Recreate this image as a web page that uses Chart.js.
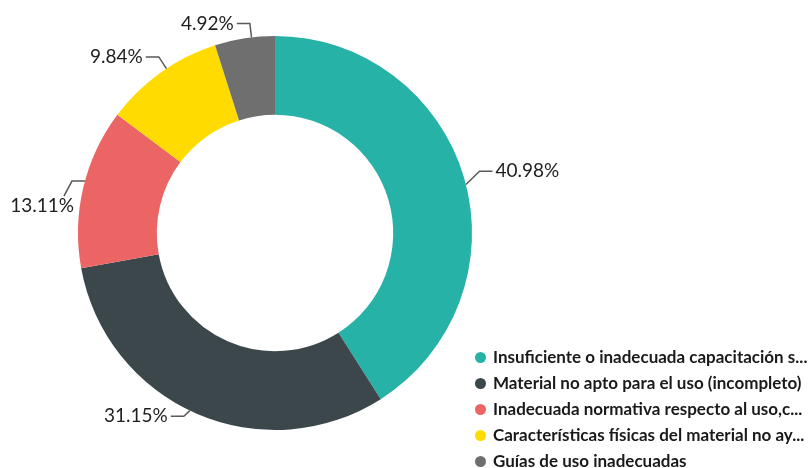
<!DOCTYPE html>
<html>
<head>
<meta charset="utf-8">
<script src="https://cdn.jsdelivr.net/npm/chart.js@4/dist/chart.umd.min.js"></script>
<style>
  html, body { margin: 0; padding: 0; background: #fff; }
  #wrap { position: relative; width: 809px; height: 468px; overflow: hidden; }
  #grafico { position: absolute; left: 0; top: 0; }
  #leyenda { position: absolute; left: 475px; top: 344px; font-family: Lato, sans-serif; font-weight: bold; font-size: 17px; color: #1a1a1a; }
  #leyenda div { height: 26px; line-height: 26px; white-space: nowrap; }
  #leyenda span { display: inline-block; width: 11px; height: 11px; border-radius: 50%; margin-right: 7px; vertical-align: 0px; }
</style>
</head>
<body>
<div id="wrap">
  <canvas id="grafico" width="809" height="468"></canvas>
  <div id="leyenda"></div>
</div>
<script>
var categorias = [
    'Insuficiente o inadecuada capacitación s...',
    'Material no apto para el uso (incompleto)',
    'Inadecuada normativa respecto al uso,c...',
    'Características físicas del material no ay...',
    'Guías de uso inadecuadas'
];
var porcentajes = [40.98, 31.15, 13.11, 9.84, 4.92];
var colores = ['#27b2a8', '#3b474b', '#eb6565', '#ffdb00', '#6f6f6f'];

// etiquetas con linea guia, estilo excel
var etiquetasPlugin = {
    id: 'etiquetas',
    afterDatasetsDraw: function (chart) {
        var ctx = chart.ctx;
        var meta = chart.getDatasetMeta(0);
        ctx.save();
        ctx.font = '19px Lato, sans-serif';
        ctx.textBaseline = 'middle';
        ctx.strokeStyle = '#595959';
        ctx.lineWidth = 1.5;
        ctx.fillStyle = '#1e1e1e';
        for (var i = 0; i < meta.data.length; i++) {
            var arc = meta.data[i];
            var ang = (arc.startAngle + arc.endAngle) / 2 + 0.035;
            var r = arc.outerRadius;
            var texto = porcentajes[i].toFixed(2) + '%';
            var ancho = ctx.measureText(texto).width;
            var x0 = arc.x + Math.cos(ang) * r;
            var y0 = arc.y + Math.sin(ang) * r;
            var derecha = Math.cos(ang) >= 0;
            var s = derecha ? 1 : -1;
            ctx.beginPath();
            ctx.moveTo(x0, y0);
            if (!derecha && x0 - 30 - ancho < 4) {
                // no cabe a la izquierda: linea horizontal y luego baja hacia el texto
                var xh = x0 - 13;
                ctx.lineTo(xh, y0);
                ctx.lineTo(xh - 8, y0 + 15);
                ctx.stroke();
                ctx.textAlign = 'right';
                ctx.fillText(texto, xh + 2, y0 + 25);
                continue;
            }
            var dy = derecha ? -10 : (Math.sin(ang) > 0 ? -7 : 0);
            var x1 = arc.x + Math.cos(ang) * (r + 14);
            var y1 = arc.y + Math.sin(ang) * (r + 14) + dy;
            var x2 = x1 + 13 * s;
            ctx.lineTo(x1, y1);
            ctx.lineTo(x2, y1);
            ctx.stroke();
            ctx.textAlign = derecha ? 'left' : 'right';
            ctx.fillText(texto, x2 + 3 * s, y1);
        }
        ctx.restore();
    }
};

var ctx = document.getElementById('grafico');
var myChart = new Chart(ctx, {
    type: 'doughnut',
    data: {
        labels: categorias,
        datasets: [{
            data: porcentajes,
            backgroundColor: colores,
            hoverBackgroundColor: colores,
            borderWidth: 0
        }]
    },
    options: {
        responsive: false,
        animation: false,
        cutout: '60%',
        layout: { padding: { left: 78, right: 337, top: 36, bottom: 38 } },
        plugins: {
            legend: { display: false },
            tooltip: { enabled: false }
        }
    },
    plugins: [etiquetasPlugin]
});

var ley = document.getElementById('leyenda');
for (var i = 0; i < categorias.length; i++) {
    var fila = document.createElement('div');
    fila.innerHTML = '<span style="background:' + colores[i] + '"></span>' + categorias[i];
    ley.appendChild(fila);
}
</script>
</body>
</html>
